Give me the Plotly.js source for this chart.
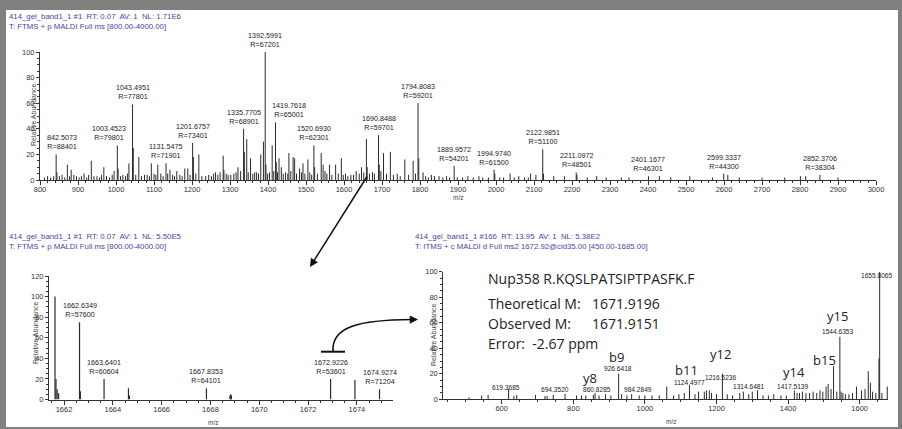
<!DOCTYPE html>
<html>
<head>
<meta charset="utf-8">
<script src="https://cdn.plot.ly/plotly-3.0.1.min.js"></script>
<style>
html,body{margin:0;padding:0;background:#808080;}
#chart{width:902px;height:429px;}
</style>
</head>
<body>
<div id="chart"></div>
<script>
// ---------- DATA ----------
// Top spectrum: labeled peaks
const topMz  = [842.5073,1003.4523,1043.4951,1131.5475,1201.6757,1335.7705,1392.5991,1419.7618,1520.6930,1690.8488,1794.8083,1889.9572,1994.9740,2122.9851,2211.0972,2401.1677,2599.3337,2852.3706];
const topInt = [20,27,59,13,29,40,100,45,27,35,60,11,8,24,6,3,5,4];
const topRes = [88401,79801,77801,71901,73401,68901,67201,65001,62301,59701,59201,54201,61500,51100,48501,46301,44300,38304];
// Top spectrum: unlabeled peaks
const topMinorMz  = [844.5,872,882,896,916,935,950,968,995,1005.5,1034,1045.5,1060,1075,1093,1110,1118,1142,1160,1181,1189,1203.7,1218,1236,1262,1282,1284,1302,1321,1337.8,1344,1354,1365,1375,1381,1388,1394.6,1411,1421.8,1429,1435,1455,1466,1470,1483,1492,1505,1522.7,1540,1545,1562,1578,1593,1604,1618,1632,1646,1659,1661,1692.8,1704,1722,1740,1760,1782,1796.8,1808,1830,1850,1870,1926,1940,1955,1996.9,2037,2060,2091,2105,2124.9,2152,2180,2213,2240,2265,2290,2330,2350,2430,2460,2510,2570,2610,2640,2700,2760,2801,2815,2900];
const topMinorInt = [6,12,8,3,5,15,3,10,7,9,13,25,18,4,13,12,5,8,7,9,9,18,20,3,6,19,8,4,10,22,32,17,6,5,20,30,12,27,14,17,10,21,18,17,9,13,16,10,21,12,12,12,17,5,4,7,10,32,10,12,21,22,5,16,15,17,6,4,3,3,3,2,3,5,5,3,5,4,5,3,3,4,2,3,2,2,2,3,2,3,2,4,2,2,2,3,3,2];
// Top spectrum: baseline noise
const topNoiseMz  = [812,820,828,836,851,858,865,878,889,903,909,923,928,942,957,962,975,983,990,1012,1018,1025,1030,1052,1067,1082,1088,1100,1105,1124,1136,1149,1154,1168,1174,1195,1210,1226,1244,1251,1257,1268,1274,1290,1295,1310,1316,1328,1348,1360,1370,1399,1404,1415,1425,1440,1446,1452,1460,1475,1488,1497,1510,1515,1530,1550,1555,1568,1585,1598,1610,1625,1640,1652,1667,1675,1680,1697,1712,1730,1748,1770,1788,1815,1822,1838,1860,1878,1898,1912,1965,1980,2010,2020,2048,2075,2085];
const topNoiseInt = [2,3,2,3,3,4,2,3,4,2,3,2,4,3,2,4,3,2,4,3,4,3,5,4,3,4,3,5,4,3,5,4,3,4,3,4,5,3,4,3,5,4,6,5,4,5,6,7,6,5,6,5,6,7,6,5,6,5,7,5,6,5,6,4,5,7,5,4,5,4,3,4,5,6,5,6,5,7,5,4,3,4,5,3,2,3,2,2,2,2,2,2,2,2,2,2,2];

// Bottom-left zoom spectrum
const leftMz  = [1661.63,1661.67,1661.72,1661.78,1662.6349,1662.67,1663.6401,1664.64,1664.68,1667.8353,1668.80,1668.83,1668.86,1672.9226,1673.92,1674.9274];
const leftInt = [100,20,10,6,75,8,20,11,4,11,4,5,4,20,19,10];
const leftLabelMz  = [1662.6349,1663.6401,1667.8353,1672.9226,1674.9274];
const leftLabelRes = [57600,60604,64101,53601,71204];

// Bottom-right MS2 spectrum
const rightMz  = [509,544,562,619.3685,634,642,694.3520,721,727,744,777,809,823,835,856,860.8285,872,890,905,926.6418,935,950,963,984.2849,1000,1020,1040,1061,1080,1095,1110,1124.4977,1140,1150,1166,1172,1180,1186,1200,1216.5236,1230,1245,1265,1275,1290,1300,1314.6481,1330,1345,1360,1380,1395,1417.5139,1425,1432,1440,1450,1460,1470,1480,1489,1497,1506,1512,1520,1527,1536,1544.6353,1548,1553,1560,1570,1580,1591,1605,1615,1624,1630,1636,1645,1653.8,1655.8065,1662,1677];
const rightInt = [1.5,3,3.5,8,2.6,3.4,3.4,2.6,2.6,3.4,4.2,3,3,3,3.5,5,3,4,3,20,4,3,4,3,3,3,3,10,3,4,5,11,4,6,6,7,7,5,4,20,4,3,5,6,4,6,7,3,3,4,3,3,7,5,5,6,5,5,6,5,7,6,10,12,8,26,6,49,6,5,4,4,5,10,7,8,22,13,6,5,32,100,5,10];
const rightLabelMz = [619.3685,694.3520,860.8285,926.6418,984.2849,1124.4977,1216.5236,1314.6481,1417.5139,1544.6353,1655.8065];
const ionNames = ['y8','b9','b11','y12','y14','b15','y15'];
const ionMz    = [860.8285,926.6418,1124.4977,1216.5236,1417.5139,1527,1544.6353];

const headerTop   = ['414_gel_band1_1 #1  RT: 0.07  AV: 1  NL: 1.71E6','T: FTMS + p MALDI Full ms [800.00-4000.00]'];
const headerLeft  = ['414_gel_band1_1 #1  RT: 0.07  AV: 1  NL: 5.50E5','T: FTMS + p MALDI Full ms [800.00-4000.00]'];
const headerRight = ['414_gel_band1_1 #166  RT: 13.95  AV: 1  NL: 5.38E2','T: ITMS + c MALDI d Full ms2 1672.92@cid35.00 [450.00-1685.00]'];
const peptideText = ['Nup358 R.KQSLPATSIPTPASFK.F','Theoretical M:','1671.9196','Observed M:','1671.9151','Error:  -2.67 ppm'];

// ---------- HELPERS ----------
const W = 902, H = 429;
const px = x => x / W;
const py = y => 1 - y / H;
function sticks(mzs, ints){
  const x = [], y = [];
  mzs.forEach((m,i) => { x.push(m, m, null); y.push(0, ints[i], null); });
  return {x, y};
}
function lookup(mzs, ints, m){ return ints[mzs.indexOf(m)]; }

const FONT = 'Liberation Sans, Arial, sans-serif';
const BIG = 'Open Sans, Noto Sans, sans-serif';
const lineCol = '#2b2b2b';

// ---------- TRACES ----------
const tAll = sticks(topMz.concat(topMinorMz, topNoiseMz), topInt.concat(topMinorInt, topNoiseInt));
const lAll = sticks(leftMz, leftInt);
const rAll = sticks(rightMz, rightInt);
const traces = [
  {x:tAll.x, y:tAll.y, xaxis:'x', yaxis:'y', mode:'lines', line:{color:lineCol, width:1}, hoverinfo:'skip'},
  {x:lAll.x, y:lAll.y, xaxis:'x2', yaxis:'y2', mode:'lines', line:{color:lineCol, width:1.2}, hoverinfo:'skip'},
  {x:rAll.x, y:rAll.y, xaxis:'x3', yaxis:'y3', mode:'lines', line:{color:lineCol, width:1}, hoverinfo:'skip'}
];

// ---------- AXES ----------
function xAx(domain, range, dtick, tick0, minorDtick, anchor){
  return {domain, range, dtick, tick0, anchor, showgrid:false, zeroline:false,
    showline:true, linecolor:'#333', linewidth:1, ticks:'outside', ticklen:4, tickwidth:1, tickcolor:'#333',
    ticklabelstandoff:-2,
    tickfont:{family:FONT, size:7.5, color:'#333'},
    minor:{ticks:'outside', dtick:minorDtick, tick0:tick0, ticklen:2, tickcolor:'#333', showgrid:false}};
}
function yAx(domain, range, anchor){
  return {domain, range, dtick:20, tick0:0, anchor, showgrid:false, zeroline:false,
    showline:true, linecolor:'#333', linewidth:1, ticks:'outside', ticklen:3, tickwidth:1, tickcolor:'#333',
    tickfont:{family:FONT, size:7.5, color:'#333'},
    minor:{ticks:'outside', dtick:5, ticklen:2, tickcolor:'#333', showgrid:false}};
}

// ---------- ANNOTATIONS ----------
const ann = [];
function txt(x, y, text, size, opts){
  ann.push(Object.assign({xref:'paper', yref:'paper', x:px(x), y:py(y), text, showarrow:false,
    xanchor:'left', yanchor:'middle', font:{family:FONT, size:size, color:'#222'}}, opts||{}));
}
// headers
const hdrCol = '#4646a6';
const hdr = {font:{family:FONT,size:7.8,color:hdrCol}};
txt(7, 17, headerTop[0], 7.8, hdr);
txt(7, 27, headerTop[1], 7.8, hdr);
txt(7, 236, headerLeft[0], 7.8, hdr);
txt(7, 246, headerLeft[1], 7.8, hdr);
txt(413, 237, headerRight[0], 7.8, hdr);
txt(413, 246, headerRight[1], 7.8, hdr);
// axis titles
const ra = {textangle:-90, xanchor:'center', yanchor:'middle', font:{family:FONT,size:7,color:'#444'}};
txt(33, 115, 'Relative Abundance', 7, ra);
txt(35, 333, 'Relative Abundance', 7, ra);
txt(433, 335, 'Relative Abundance', 7, ra);
const mzT = {xanchor:'center', font:{family:FONT,size:6.5,color:'#444'}};
txt(458, 197, 'm/z', 6.5, mzT);
txt(213, 422, 'm/z', 6.5, mzT);
txt(671, 421, 'm/z', 6.5, mzT);

// top peak labels
const topShift = {842.5073:6, 1003.4523:-8, 1419.7618:13};
topMz.forEach((m,i) => {
  ann.push({xref:'x', yref:'y', x:m, y:topInt[i], text:m.toFixed(4)+'<br>R='+topRes[i], showarrow:false,
    xanchor:'center', yanchor:'bottom', yshift:1, xshift:topShift[m]||0,
    font:{family:FONT, size:7.2, color:'#222'}});
});
// bottom-left peak labels
leftLabelMz.forEach((m,i) => {
  ann.push({xref:'x2', yref:'y2', x:m, y:lookup(leftMz,leftInt,m), text:m.toFixed(4)+'<br>R='+leftLabelRes[i], showarrow:false,
    xanchor:'center', yanchor:'bottom', yshift:1,
    font:{family:FONT, size:7.2, color:'#222'}});
});
// bottom-right peak labels (pixel nudges)
const rShift = {619.3685:[-3,2], 694.3520:[20,5], 860.8285:[2,3], 926.6418:[-1,5], 984.2849:[-1,5.5],
  1124.4977:[0,3], 1216.5236:[-1,-4], 1314.6481:[-9,3.5], 1417.5139:[-1,3.5], 1544.6353:[-2,5], 1655.8065:[-3,-4]};
rightLabelMz.forEach(m => {
  const s = rShift[m];
  ann.push({xref:'x3', yref:'y3', x:m, y:lookup(rightMz,rightInt,m), text:m.toFixed(4), showarrow:false,
    xanchor:'center', yanchor:'middle', xshift:s[0], yshift:s[1],
    font:{family:FONT, size:6.6, color:'#222'}});
});
const ionShift = {y8:[-5,15], b9:[-2,17], b11:[-3,15], y12:[-2,20], y14:[0,18], b15:[-9,6], y15:[-2,21]};
ionNames.forEach((n,i) => {
  const s = ionShift[n];
  ann.push({xref:'x3', yref:'y3', x:ionMz[i], y:lookup(rightMz,rightInt,ionMz[i]), text:n, showarrow:false,
    xanchor:'center', yanchor:'middle', xshift:s[0], yshift:s[1],
    font:{family:BIG, size:13, color:'#222'}});
});
// peptide info block
const bigF = {font:{family:BIG, size:14, color:'#222'}};
txt(486, 278, peptideText[0], 14, bigF);
txt(486, 303, peptideText[1], 14, bigF);
txt(590, 303, peptideText[2], 14, bigF);
txt(486, 323, peptideText[3], 14, bigF);
txt(590, 323, peptideText[4], 14, bigF);
txt(486, 343, peptideText[5], 14, bigF);

// arrows
ann.push({xref:'paper', yref:'paper', x:px(310), y:py(267), ax:58, ay:-92, text:'', showarrow:true,
  arrowhead:2, arrowsize:1.1, arrowwidth:1.5, arrowcolor:'#111'});
ann.push({xref:'paper', yref:'paper', x:px(418), y:py(319.5), ax:-8, ay:0, text:'', showarrow:true,
  arrowhead:2, arrowsize:1.1, arrowwidth:1.5, arrowcolor:'#111'});

// ---------- SHAPES ----------
const shapes = [
  {type:'rect', xref:'paper', yref:'paper', x0:px(6), x1:px(898), y0:py(427), y1:py(10),
   fillcolor:'#ffffff', line:{width:0}, layer:'below'},
  {type:'line', xref:'paper', yref:'paper', x0:px(321), x1:px(345), y0:py(351.7), y1:py(351.7),
   line:{color:'#111', width:2}},
  {type:'path', xref:'paper', yref:'paper',
   path:'M '+px(333)+','+py(351.7)+' C '+px(331)+','+py(326)+' '+px(360)+','+py(320)+' '+px(412)+','+py(319.5),
   line:{color:'#111', width:1.6}}
];

const layout = {
  width:W, height:H, margin:{l:0,r:0,t:0,b:0},
  paper_bgcolor:'#808080', plot_bgcolor:'rgba(0,0,0,0)', showlegend:false,
  xaxis:  xAx([px(40), px(876)], [800,3000], 100, 800, 20, 'y'),
  yaxis:  yAx([py(180), py(52)], [0,100], 'x'),
  xaxis2: xAx([px(49), px(393)], [1661.384,1675.48], 2, 1662, 0.5, 'y2'),
  yaxis2: yAx([py(399.5), py(276)], [0,120], 'x2'),
  xaxis3: xAx([px(443.3), px(888.4)], [436.9,1680.2], 200, 0, 50, 'y3'),
  yaxis3: yAx([py(399.3), py(271.7)], [0,100], 'x3'),
  annotations: ann,
  shapes: shapes
};

Plotly.newPlot('chart', traces, layout, {staticPlot:true, displayModeBar:false});
</script>
</body>
</html>
